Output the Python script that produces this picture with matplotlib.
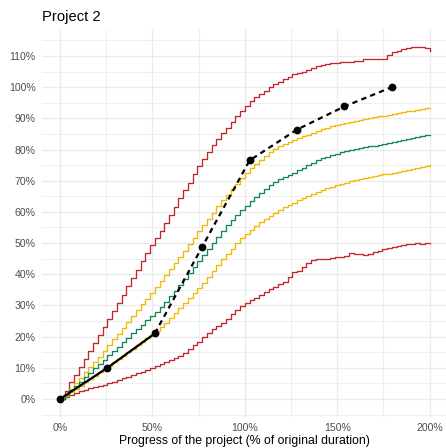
import numpy as np
import matplotlib
matplotlib.use("Agg")
import matplotlib.pyplot as plt
from matplotlib.ticker import MultipleLocator, FuncFormatter

# Planned duration of the project, in weeks
planned_weeks = 39
weeks = np.arange(79)

# Simulated progress bands (% complete), one value per week
upper_red = [
    0.0, 2.6, 5.3, 7.8, 10.3, 12.9, 15.4, 18.0, 20.5, 23.1,
    25.6, 28.3, 30.9, 33.5, 36.1, 38.8, 41.5, 44.1, 46.8, 49.4,
    51.5, 54.0, 56.5, 59.0, 61.5, 64.3, 66.9, 69.4, 72.0, 74.6,
    77.0, 79.2, 81.3, 83.3, 85.2, 87.0, 88.9, 90.7, 92.4, 94.0,
    95.4, 96.8, 97.8, 98.9, 100.0, 100.9, 101.8, 102.6, 103.4, 104.1,
    104.6, 105.0, 105.6, 106.2, 106.7, 107.0, 107.3, 107.6, 107.8, 108.0,
    108.1, 108.2, 108.3, 108.5, 109.0, 109.0, 109.0, 109.0, 108.9, 110.3,
    111.2, 111.6, 112.2, 112.5, 112.8, 113.0, 113.0, 112.5, 111.7,
]
upper_yellow = [
    0.0, 1.6, 3.3, 5.0, 6.8, 8.5, 10.2, 11.9, 13.6, 15.4,
    17.3, 19.1, 20.9, 22.7, 24.6, 26.5, 28.4, 30.3, 32.2, 34.1,
    36.0, 37.9, 39.8, 41.7, 43.6, 45.5, 47.5, 49.6, 51.7, 53.8,
    55.9, 57.8, 59.8, 61.8, 63.7, 65.5, 67.3, 69.1, 70.9, 72.6,
    74.1, 75.4, 76.7, 77.9, 79.2, 80.3, 81.0, 81.7, 82.3, 83.0,
    83.6, 84.2, 84.8, 85.4, 86.0, 86.6, 87.0, 87.4, 87.8, 88.2,
    88.5, 88.8, 89.1, 89.4, 89.7, 90.0, 90.3, 90.6, 90.8, 91.1,
    91.4, 91.7, 92.0, 92.3, 92.5, 92.8, 93.0, 93.2, 93.3,
]
median_green = [
    0.0, 1.4, 2.8, 4.2, 5.6, 7.0, 8.4, 9.8, 11.2, 12.6,
    14.0, 15.4, 16.8, 18.2, 19.6, 21.0, 22.4, 23.8, 25.2, 26.6,
    28.0, 29.6, 31.2, 32.9, 34.7, 36.6, 38.5, 40.4, 42.3, 44.2,
    46.1, 48.0, 50.0, 52.0, 54.0, 55.8, 57.5, 59.1, 60.6, 62.0,
    63.4, 64.7, 66.2, 67.4, 68.5, 69.5, 70.4, 71.2, 71.9, 72.6,
    73.3, 74.1, 74.9, 75.8, 76.6, 77.2, 77.7, 78.2, 78.7, 79.1,
    79.5, 79.8, 80.1, 80.4, 80.7, 81.0, 81.2, 81.5, 81.8, 82.1,
    82.4, 82.7, 83.0, 83.3, 83.6, 83.9, 84.2, 84.5, 84.8,
]
lower_yellow = [
    0.0, 1.0, 2.1, 3.2, 4.3, 5.4, 6.4, 7.5, 8.6, 9.6,
    10.7, 11.8, 12.9, 13.9, 15.0, 16.1, 17.2, 18.3, 19.4, 20.6,
    21.8, 23.1, 24.5, 25.9, 27.5, 29.1, 30.8, 32.4, 34.0, 35.7,
    37.3, 39.2, 41.1, 43.0, 44.8, 46.5, 48.2, 49.9, 51.5, 53.0,
    54.3, 55.5, 56.7, 57.8, 58.8, 59.8, 60.7, 61.5, 62.3, 63.0,
    63.7, 64.4, 65.1, 65.8, 66.4, 67.0, 67.5, 68.0, 68.5, 69.0,
    69.4, 69.8, 70.2, 70.5, 70.8, 71.1, 71.4, 71.7, 72.0, 72.3,
    72.6, 72.9, 73.2, 73.5, 73.8, 74.1, 74.4, 74.7, 75.0,
]
lower_red = [
    0.0, 0.7, 1.3, 1.9, 2.5, 3.0, 3.4, 3.8, 4.2, 4.6,
    5.0, 5.5, 6.1, 6.6, 7.2, 7.7, 8.3, 8.8, 9.4, 10.0,
    10.6, 11.2, 11.9, 12.5, 13.0, 13.8, 14.8, 16.0, 17.2, 18.4,
    19.8, 21.0, 22.3, 23.3, 24.4, 25.8, 27.2, 28.6, 29.8, 30.7,
    31.6, 32.5, 33.3, 34.2, 35.2, 36.0, 37.0, 37.6, 39.0, 40.6,
    41.2, 42.2, 43.5, 44.6, 44.8, 44.9, 45.0, 45.2, 45.5, 45.6,
    46.0, 46.7, 46.6, 46.5, 46.3, 46.4, 47.2, 47.6, 48.0, 48.5,
    48.8, 49.2, 49.4, 49.6, 49.8, 50.0, 49.8, 49.9, 50.0,
]

# Reported progress so far and its projection
actual_weeks = [0, 10, 20]
actual_progress = [0, 10, 21]
forecast_weeks = [20, 30, 40, 50, 60, 70]
forecast_progress = [21, 48.8, 76.5, 86.4, 93.8, 100]

x_ticks = [0, 50, 100, 150, 200]
y_ticks = [0, 10, 20, 30, 40, 50, 60, 70, 80, 90, 100, 110]

RED = "#C0262D"
YELLOW = "#F0BA00"
GREEN = "#11875A"

W, H = 446, 448
fig = plt.figure(figsize=(W / 100, H / 100), dpi=100)
fig.patch.set_facecolor("white")

x0, x1 = 41.5, 448.2
ytop, ybot = 29.0, 416.6
ax = fig.add_axes([x0 / W, 1 - ybot / H, (x1 - x0) / W, (ybot - ytop) / H])
ax.set_facecolor("white")

def pct(w):
    return np.asarray(w, dtype=float) / planned_weeks * 100

xw = pct(weeks)
for series, col in [(lower_red, RED), (upper_red, RED), (lower_yellow, YELLOW),
                    (upper_yellow, YELLOW), (median_green, GREEN)]:
    ax.step(xw, series, where="post", color=col, lw=0.95, zorder=3)

ax.plot(pct(forecast_weeks), forecast_progress, color="black", lw=1.6,
        dashes=(2.4, 1.9), zorder=4)
ax.plot(pct(actual_weeks), actual_progress, color="black", lw=1.6, zorder=5)
ax.plot(pct(actual_weeks + forecast_weeks[1:]), actual_progress + forecast_progress[1:],
        ls="none", marker="o", ms=4.6, color="black", zorder=6)

ax.set_xlim(-10, 210)
ax.set_ylim(-5.65, 118.65)
ax.set_xticks(x_ticks)
ax.set_yticks(y_ticks)
ax.xaxis.set_minor_locator(MultipleLocator(25))
ax.yaxis.set_minor_locator(MultipleLocator(5))
fmt = FuncFormatter(lambda v, p: f"{v:.0f}%")
ax.xaxis.set_major_formatter(fmt)
ax.yaxis.set_major_formatter(fmt)

ax.grid(which="major", color="#EBEBEB", lw=1.0, zorder=0)
ax.grid(which="minor", color="#EFEFEF", lw=0.8, zorder=0)
ax.set_axisbelow(True)
for s in ax.spines.values():
    s.set_visible(False)

font = ["Liberation Sans", "DejaVu Sans"]
ax.tick_params(which="both", length=0)
ax.tick_params(axis="x", pad=4.5, labelsize=7.6, labelcolor="#4D4D4D")
ax.tick_params(axis="y", pad=4.3, labelsize=7.6, labelcolor="#4D4D4D")
for lab in ax.get_xticklabels() + ax.get_yticklabels():
    lab.set_fontfamily(font)

fig.text(41.7 / W, 1 - 20.7 / H, "Project 2", fontsize=10.6, family=font,
         ha="left", va="baseline", color="black")
fig.text((x0 + x1) / 2 / W, 1 - 443.5 / H,
         "Progress of the project (% of original duration)",
         fontsize=8.85, family=font, ha="center", va="baseline", color="black")

fig.savefig("out.png", dpi=100, facecolor="white")
